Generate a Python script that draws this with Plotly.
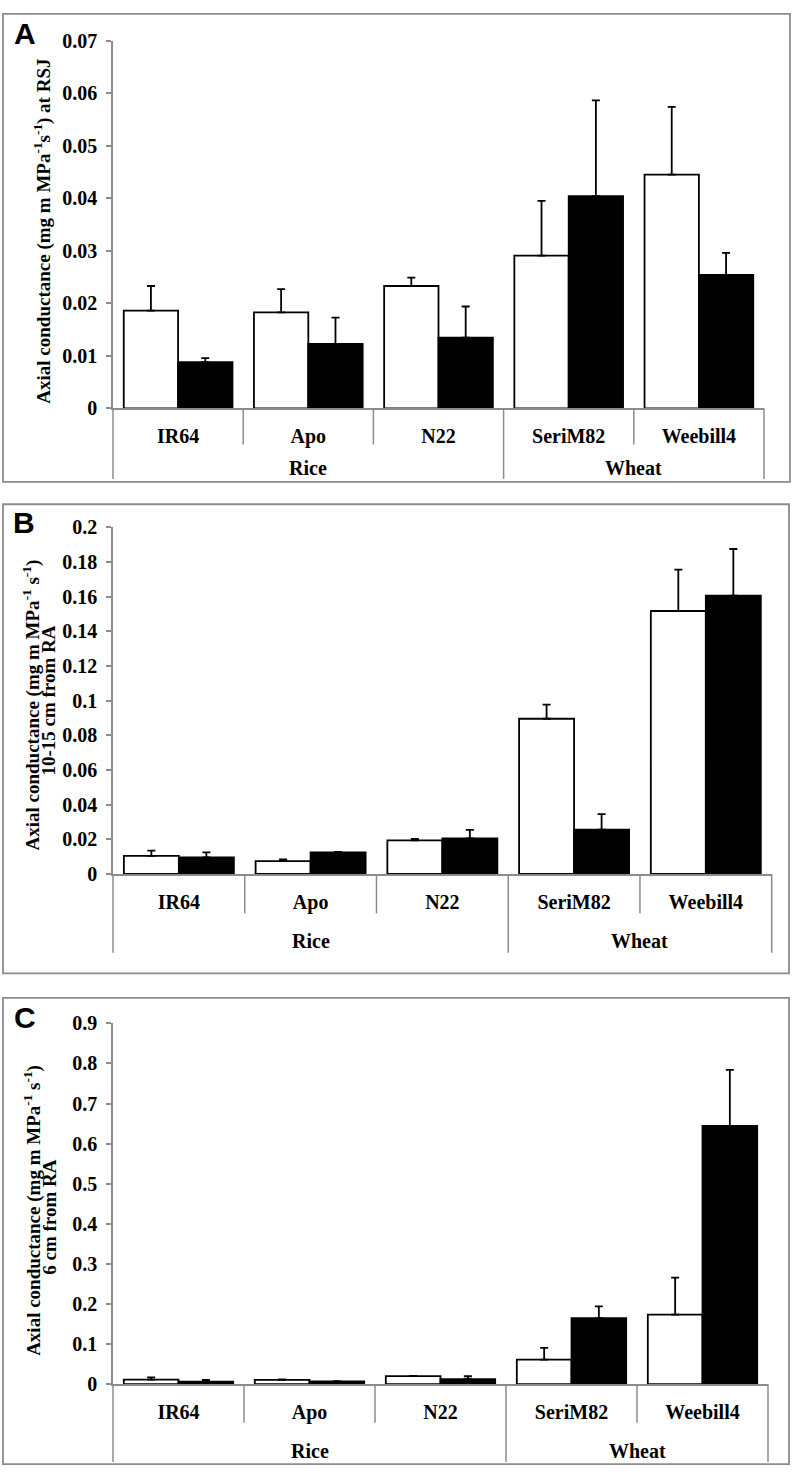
import plotly.graph_objects as go

W, H = 793, 1478

groups = ["Rice", "Rice", "Rice", "Wheat", "Wheat"]
cultivars = ["IR64", "Apo", "N22", "SeriM82", "Weebill4"]

# Panel A: axial conductance at RSJ
a_white = [0.0186, 0.0183, 0.0233, 0.0291, 0.0445]
a_white_err = [0.0047, 0.0044, 0.0016, 0.0104, 0.0129]
a_black = [0.0088, 0.0123, 0.0135, 0.0404, 0.0254]
a_black_err = [0.0008, 0.0050, 0.0059, 0.0182, 0.0042]

# Panel B: 10-15 cm from RA
b_white = [0.0105, 0.0074, 0.0194, 0.0896, 0.1518]
b_white_err = [0.0030, 0.0010, 0.0009, 0.0081, 0.0239]
b_black = [0.0095, 0.0125, 0.0205, 0.0256, 0.1607]
b_black_err = [0.0030, 0.0003, 0.0049, 0.0089, 0.0269]

# Panel C: 6 cm from RA
c_white = [0.0113, 0.0110, 0.0204, 0.0614, 0.1737]
c_white_err = [0.0057, 0.0010, 0.0006, 0.0295, 0.0923]
c_black = [0.0064, 0.0070, 0.0130, 0.1646, 0.6446]
c_black_err = [0.0046, 0.0010, 0.0070, 0.0294, 0.1394]

GRAY = "#8c8c8c"
SERIF = "Liberation Serif"
SANS = "Liberation Sans"
FS = 20
TFS = 19

panels = [
    dict(letter="A", white=a_white, werr=a_white_err, black=a_black, berr=a_black_err,
         ymax=0.07, dtick=0.01, x0=113, x1=764, ytop=30, ybase=403.5,
         box=(3, 3, 790, 478), lab_off=24.5, div_len=36.5, grp_len=71.5, grp_off=60.5,
         titles=[("Axial conductance (mg m MPa<sup>-1</sup>s<sup>-1</sup>) at RSJ", 43, 224)],
         letter_pos=(25, 23)),
    dict(letter="B", white=b_white, werr=b_white_err, black=b_black, berr=b_black_err,
         ymax=0.2, dtick=0.02, x0=113, x1=771.7, ytop=524.3, ybase=876,
         box=(3, 500.7, 789, 977), lab_off=28, div_len=40, grp_len=80, grp_off=68,
         titles=[("Axial conductance (mg m MPa<sup>-1</sup> s<sup>-1</sup>)", 32, 705),
                 ("10-15 cm from RA", 49, 700)],
         letter_pos=(24, 519)),
    dict(letter="C", white=c_white, werr=c_white_err, black=c_black, berr=c_black_err,
         ymax=0.9, dtick=0.1, x0=113, x1=768, ytop=1027.7, ybase=1394,
         box=(3, 1001.7, 789, 1475), lab_off=28, div_len=39, grp_len=79, grp_off=68,
         titles=[("Axial conductance (mg m MPa<sup>-1</sup> s<sup>-1</sup>)", 33, 1218),
                 ("6 cm from RA", 50, 1225)],
         letter_pos=(25, 1022)),
]


def px(x):
    return x / W


def py(y):
    return 1 - y / H


fig = go.Figure()
layout = dict(
    width=W, height=H, margin=dict(l=0, r=0, t=0, b=0),
    paper_bgcolor="white", plot_bgcolor="white", showlegend=False,
    barmode="group", bargap=0.165, bargroupgap=0,
    font=dict(family=SERIF, size=FS, color="black", weight="bold"),
)
shapes = []
annotations = []

for i, p in enumerate(panels, start=1):
    xa = "x" if i == 1 else f"x{i}"
    ya = "y" if i == 1 else f"y{i}"
    for vals, errs, fill in ((p["white"], p["werr"], "white"), (p["black"], p["berr"], "black")):
        fig.add_trace(go.Bar(
            x=cultivars, y=vals, xaxis=xa, yaxis=ya,
            marker=dict(color=fill, line=dict(color="black", width=1.8)),
            error_y=dict(type="data", symmetric=False, array=errs,
                         arrayminus=[0] * len(errs), color="black", thickness=1.8, width=4),
        ))
    xkey = "xaxis" if i == 1 else f"xaxis{i}"
    ykey = "yaxis" if i == 1 else f"yaxis{i}"
    layout[xkey] = dict(
        domain=[px(p["x0"]), px(p["x1"])], anchor=ya, type="category",
        range=[-0.5, len(cultivars) - 0.5], showline=True, linecolor=GRAY, linewidth=1.5,
        ticks="", showgrid=False, zeroline=False, ticklabelstandoff=9,
        tickfont=dict(family=SERIF, size=FS, color="black", weight="bold"),
        fixedrange=True,
    )
    layout[ykey] = dict(
        domain=[py(p["ybase"]), py(p["ytop"])], anchor=xa,
        range=[0, p["ymax"]], dtick=p["dtick"], tick0=0,
        showline=True, linecolor=GRAY, linewidth=1.5,
        ticks="outside", ticklen=5, tickcolor=GRAY, tickwidth=1.5,
        showgrid=False, zeroline=False, ticklabelstandoff=5,
        tickfont=dict(family=SERIF, size=FS, color="black", weight="bold"),
        fixedrange=True,
    )
    # panel frame
    bx0, by0, bx1, by1 = p["box"]
    shapes.append(dict(type="rect", xref="paper", yref="paper",
                       x0=px(bx0), x1=px(bx1), y0=py(by1), y1=py(by0),
                       line=dict(color=GRAY, width=1.8), layer="below"))
    # category dividers (short) and group dividers (long)
    n = len(cultivars)
    group_edges = {0, n}
    for k in range(1, n):
        if groups[k] != groups[k - 1]:
            group_edges.add(k)
    for k in range(n + 1):
        ln = p["grp_len"] if k in group_edges else p["div_len"]
        shapes.append(dict(type="line", xref=f"{xa} domain", yref="paper",
                           x0=k / n, x1=k / n, y0=py(p["ybase"]), y1=py(p["ybase"] + ln),
                           line=dict(color=GRAY, width=1.5)))
    # group labels
    seen = []
    for g in groups:
        if g not in seen:
            seen.append(g)
    for g in seen:
        idx = [j for j, gg in enumerate(groups) if gg == g]
        annotations.append(dict(
            x=sum(idx) / len(idx), y=py(p["ybase"] + p["grp_off"]), xref=xa, yref="paper",
            text=g, showarrow=False, xanchor="center", yanchor="middle",
            font=dict(family=SERIF, size=FS, color="black", weight="bold")))
    # y titles
    for text, tx, ty in p["titles"]:
        annotations.append(dict(
            x=px(tx), y=py(ty), xref="paper", yref="paper", text=text, textangle=-90,
            showarrow=False, xanchor="center", yanchor="middle",
            font=dict(family=SERIF, size=TFS, color="black", weight="bold")))
    # panel letter
    lx, ly = p["letter_pos"]
    annotations.append(dict(
        x=px(lx), y=py(ly), xref="paper", yref="paper", text=p["letter"],
        showarrow=False, xanchor="center", yanchor="middle",
        font=dict(family=SANS, size=30, color="black", weight="bold")))

layout["shapes"] = shapes
layout["annotations"] = annotations
fig.update_layout(**layout)
fig.write_html("out.html", config={"displayModeBar": False},
               post_script="document.body.style.margin='0';document.body.style.overflow='hidden';")
